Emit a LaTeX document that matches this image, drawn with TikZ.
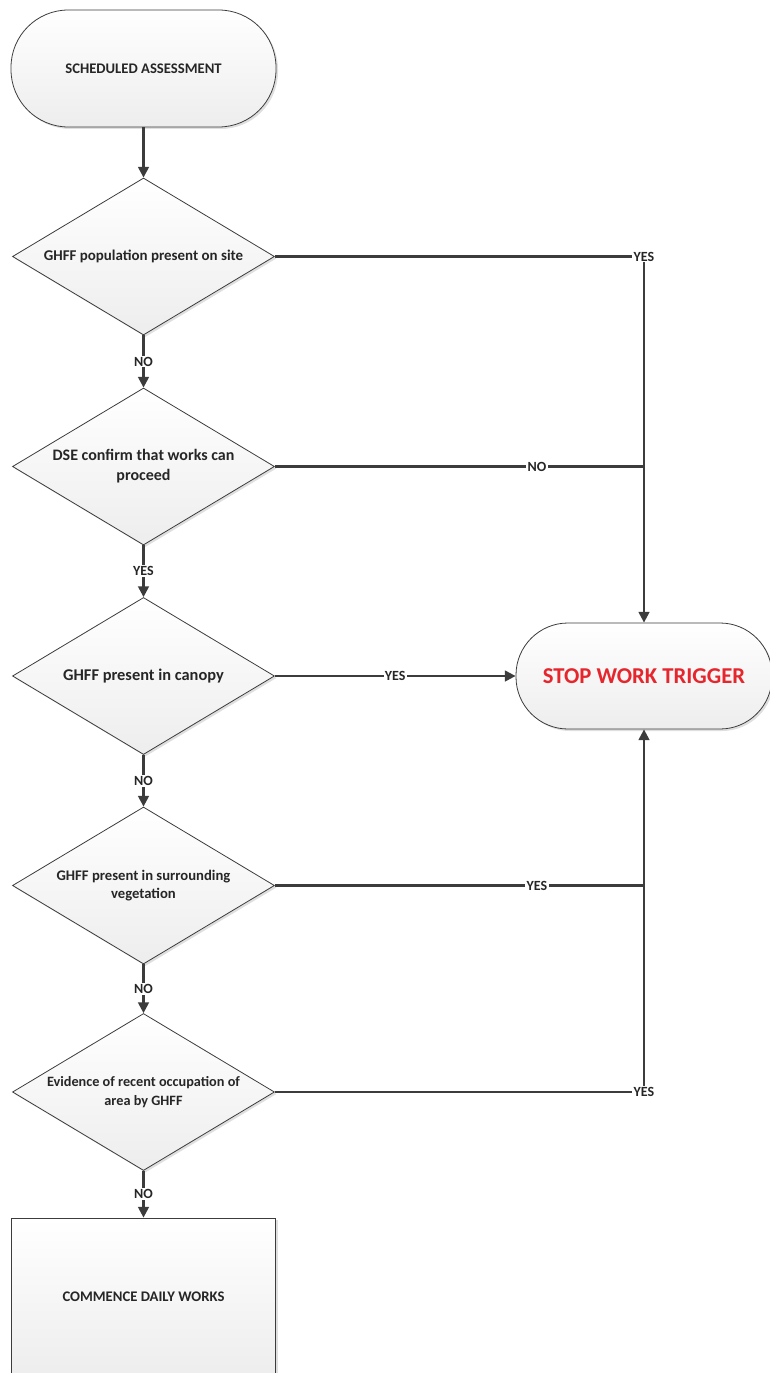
\documentclass[tikz,border=0pt]{standalone}
\usepackage{fontspec}
\setmainfont{Carlito}
\usetikzlibrary{shapes.geometric,arrows.meta,shadows}
\definecolor{ln}{HTML}{3C3C3C}
\definecolor{stopred}{HTML}{E5262D}
\newcommand{\fs}[2]{\bfseries\fontsize{#1}{#2}\selectfont}
\begin{document}
\begin{tikzpicture}[x=0.75pt,y=-0.75pt,
 box/.style={draw=ln, line width=0.6pt, top color=white, bottom color=gray!14,
   drop shadow={opacity=0.25,shadow xshift=1.5pt,shadow yshift=-1.5pt},
   font=\fs{11}{13.5}, text=black!85, align=center, inner sep=0pt},
 term/.style={box, rectangle, rounded corners=43pt, minimum width=198.75pt, minimum height=87.75pt},
 decision/.style={box, diamond, aspect=1.67, minimum width=196.5pt, minimum height=117.75pt},
 proc/.style={box, rectangle, minimum width=198pt, minimum height=118.5pt},
 conn/.style={draw=ln, line width=1.7pt},
 arr/.style={conn, -{Triangle[length=8pt,width=8pt]}},
 lbl/.style={fill=white, inner sep=1pt, font=\fs{10.5}{12}, text=black!85},
]
\useasboundingbox (0,0) rectangle (769,1373);

\node[term] (start) at (143.5,68.5) {SCHEDULED ASSESSMENT};
\node[decision, font=\fs{11.2}{14}] (d1) at (143.5,256.5) {GHFF population present on site};
\node[decision, font=\fs{12}{15}] (d2) at (143.5,466.5) {DSE confirm that works can\\proceed};
\node[decision, font=\fs{12.3}{15}] (d3) at (143.5,676) {GHFF present in canopy};
\node[decision, font=\fs{11}{14}] (d4) at (143.5,885.5) {GHFF present in surrounding\\vegetation};
\node[decision, font=\fs{10.7}{13.7}] (d5) at (143.5,1092) {Evidence of recent occupation of\\area by GHFF};
\node[proc] (work) at (143.5,1297) {COMMENCE DAILY WORKS};
\node[term, rounded corners=39pt, minimum width=192pt, minimum height=79.5pt,
      font=\fs{17}{20}, text=stopred] (stop) at (644,676) {STOP WORK TRIGGER};

% main spine
\draw[arr] (start.south) -- (d1.north);
\draw[arr] (d1.south) -- node[lbl]{NO} (d2.north);
\draw[arr] (d2.south) -- node[lbl]{YES} (d3.north);
\draw[arr] (d3.south) -- node[lbl]{NO} (d4.north);
\draw[arr] (d4.south) -- node[lbl]{NO} (d5.north);
\draw[arr] (d5.south) -- node[lbl]{NO} (work.north);

% branches to stop
\coordinate (c1) at (d1.east -| stop.north);
\coordinate (c2) at (d2.east -| stop.north);
\coordinate (c4) at (d4.east -| stop.south);
\coordinate (c5) at (d5.east -| stop.south);
\draw[conn] (d1.east) -- (c1);
\draw[arr] (c1) -- (stop.north);
\node[lbl] at (c1) {YES};
\draw[conn] (d2.east) -- node[lbl,pos=0.71]{NO} (c2);
\draw[arr] (d3.east) -- node[lbl]{YES} (stop.west);
\draw[conn] (d4.east) -- node[lbl,pos=0.71]{YES} (c4);
\draw[conn] (d5.east) -- (c5);
\draw[arr] (c5) -- (stop.south);
\node[lbl] at (c5) {YES};
\end{tikzpicture}
\end{document}
